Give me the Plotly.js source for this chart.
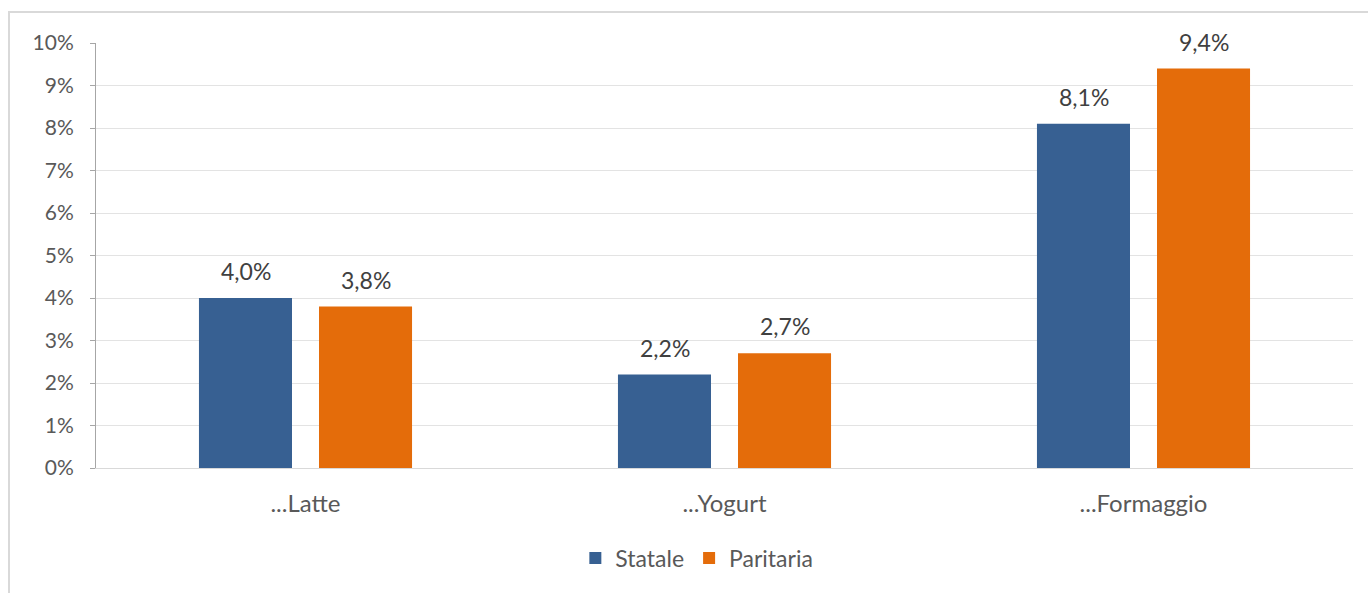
<!DOCTYPE html>
<html>
<head>
<meta charset="utf-8">
<script src="https://cdn.plot.ly/plotly-3.0.1.min.js"></script>
<style>html,body{margin:0;padding:0;background:#fff;}#chart{width:1368px;height:593px;}</style>
</head>
<body>
<div id="chart"></div>
<script>
const categories = ["...Latte", "...Yogurt", "...Formaggio"];
const statale = [4.0, 2.2, 8.1];
const paritaria = [3.8, 2.7, 9.4];
const seriesNames = ["Statale", "Paritaria"];
const yTickVals = [0,1,2,3,4,5,6,7,8,9,10];
const yTickText = yTickVals.map(v => v + "%");

const fontFam = "Lato, 'Open Sans', sans-serif";
const lbl = v => v.toFixed(1).replace('.', ',') + '%';

const traces = [
  {type:'bar', name:seriesNames[0], x:categories, y:statale, marker:{color:'#376092'}},
  {type:'bar', name:seriesNames[1], x:categories, y:paritaria, marker:{color:'#E46C0A'}}
];

// data labels, anchored to each bar's value via the axes
const labelFont = {family:fontFam, size:23, color:'#404040'};
const annotations = [];
[[statale, -60], [paritaria, 60]].forEach(([vals, dx]) => {
  vals.forEach((v, i) => annotations.push({
    xref:'x', yref:'y', x:categories[i], y:v, text:lbl(v), showarrow:false,
    xanchor:'center', yanchor:'bottom', xshift:dx, yshift:11, font:labelFont
  }));
});

const layout = {
  width:1368, height:593,
  margin:{l:96, r:15, t:43, b:125},
  paper_bgcolor:'#fff', plot_bgcolor:'#fff',
  font:{family:fontFam, size:22, color:'#595959'},
  barmode:'group', bargap:0.427, bargroupgap:0.225,
  xaxis:{showline:true, linecolor:'#d9d9d9', linewidth:1, ticks:'', showgrid:false,
         ticklabelstandoff:14, tickfont:{family:fontFam, size:24, color:'#595959'}},
  yaxis:{range:[0,10], tickvals:yTickVals, ticktext:yTickText, showgrid:true, gridcolor:'#e3e3e3',
         showline:true, linecolor:'#a6a6a6', linewidth:1, ticks:'outside', ticklen:5, tickcolor:'#a6a6a6',
         ticklabelstandoff:12, zeroline:false, tickfont:{family:fontFam, size:21, color:'#595959'}},
  showlegend:true,
  legend:{orientation:'h', x:0.478, xanchor:'center', y:-0.212, yanchor:'middle',
          font:{family:fontFam, size:23, color:'#595959'}, itemwidth:30, traceorder:'normal'},
  annotations:annotations,
  shapes:[
    {type:'rect', xref:'paper', yref:'paper', x0:-0.0692, x1:1.2, y0:-0.4, y1:1.0729,
     line:{color:'#d9d9d9', width:2}, fillcolor:'rgba(0,0,0,0)', layer:'below'}
  ]
};

Plotly.newPlot('chart', traces, layout, {displayModeBar:false, staticPlot:true});
</script>
</body>
</html>
